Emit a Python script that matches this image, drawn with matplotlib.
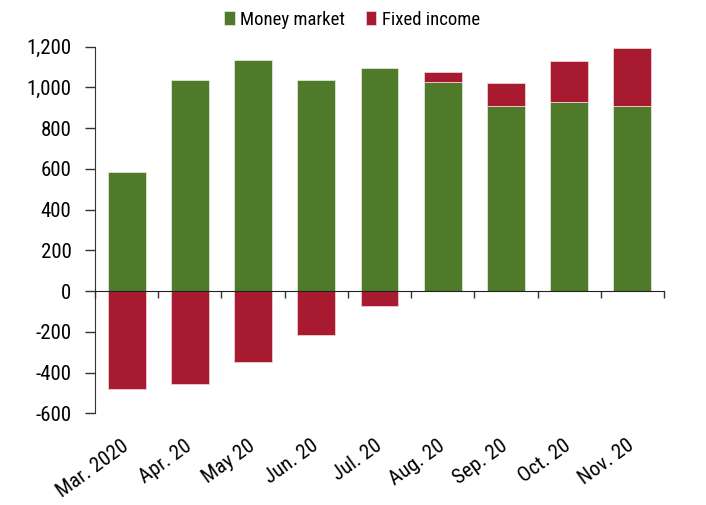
import matplotlib
matplotlib.use("Agg")
import matplotlib.pyplot as plt
import numpy as np

categories = ["Mar. 2020", "Apr. 20", "May 20", "Jun. 20", "Jul. 20",
              "Aug. 20", "Sep. 20", "Oct. 20", "Nov. 20"]
money_market = [585, 1038, 1135, 1036, 1095, 1027, 908, 928, 908]
fixed_income = [-483, -454, -349, -218, -74, 50, 112, 200, 286]
yticks = [-600, -400, -200, 0, 200, 400, 600, 800, 1000, 1200]

GREEN = "#4E7A2A"
RED = "#A81A30"
FONT = ["Roboto Condensed", "Liberation Sans", "DejaVu Sans"]
plt.rcParams["font.family"] = FONT

fig = plt.figure(figsize=(7.06, 5.05), dpi=100)
ax = fig.add_axes([0.1346, 0.1816, 0.9405 - 0.1346, 0.9075 - 0.1816])

x = np.arange(len(categories))
mm = np.array(money_market, dtype=float)
fi = np.array(fixed_income, dtype=float)
fi_bottom = np.where(fi >= 0, mm, 0)

ax.bar(x, mm, width=0.6, color=GREEN, edgecolor="#dfe8d8", linewidth=0.6,
       label="Money market", zorder=2)
ax.bar(x, fi, width=0.6, bottom=fi_bottom, color=RED, edgecolor="#ecd0d4",
       linewidth=0.6, label="Fixed income", zorder=2)

ax.set_xlim(-0.5, len(categories) - 0.5)
ax.set_ylim(-600, 1200)
ax.set_yticks(yticks)
ax.set_yticklabels([f"{v:,}" for v in yticks])
ax.tick_params(axis="y", direction="out", length=7, width=1, labelsize=15,
               pad=10, color="#333333")

for s in ["top", "right"]:
    ax.spines[s].set_visible(False)
ax.spines["left"].set_color("#333333")
ax.spines["bottom"].set_position(("data", 0))
ax.spines["bottom"].set_color("#222222")
ax.spines["bottom"].set_zorder(3)

# category boundary ticks on zero line
ax.set_xticks(np.arange(len(categories) + 1) - 0.5)
ax.set_xticklabels([])
ax.tick_params(axis="x", direction="out", length=5, width=1, color="#333333")

# category labels at the bottom of the axes
sec = ax.secondary_xaxis("bottom")
sec.set_xticks(x)
sec.set_xticklabels(categories, rotation=36, ha="right", va="center",
                    rotation_mode="anchor", fontsize=15)
sec.tick_params(axis="x", length=0, pad=22)
sec.spines["bottom"].set_visible(False)

ax.legend(loc="center", bbox_to_anchor=(0.452, 1.074), ncol=2,
          frameon=False, fontsize=13.5, handlelength=0.55, handleheight=0.8,
          handletextpad=0.3, columnspacing=1.1, borderaxespad=0)

fig.savefig("out.png", dpi=100)
